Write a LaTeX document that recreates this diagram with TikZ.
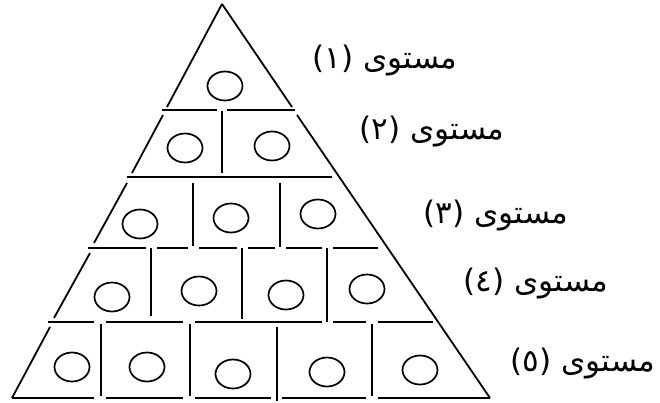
\documentclass[tikz,border=0pt]{standalone}
\usepackage{fontspec}
\usepackage{tikz}
\usetikzlibrary{shapes.geometric,positioning}
\newfontfamily\arabicfont[Script=Arabic]{DejaVu Sans}
\TeXXeTstate=1

\begin{document}
\begin{tikzpicture}[
  x=1pt, y=-1pt,
  edge/.style={line width=1.8pt},
  slot/.style={ellipse, draw, line width=1.7pt, minimum width=35pt,
               minimum height=29pt, inner sep=0pt},
  lvl/.style={font=\arabicfont\fontsize{31}{36}\selectfont, inner sep=0pt},
]
\useasboundingbox (0,0) rectangle (660,403);

% ---- sides -------------------------------------------------------------------
% left side is broken at every level, right side only below level 1
\foreach \xa/\ya/\xb/\yb in {222/4/167/107, 163/115/132/173, 127/183/94/243,
                             90/253/54/318, 50/327/12/398}
  \draw[edge] (\xa,\ya) -- (\xb,\yb);
\draw[edge] (222,4) -- (292,107);
\draw[edge] (297,115) -- (490,398);

% ---- floors ------------------------------------------------------------------
\foreach \y/\a/\b in {110/162/217, 110/227/295,
                      177/127/332,
                      248/88/146, 248/157/188, 248/199/237, 248/248/275,
                      248/286/322, 248/333/378,
                      322/48/94, 322/106/183, 322/195/322, 322/333/366,
                      322/378/433,
                      398/12/94, 398/106/183, 398/195/271, 398/282/366,
                      398/378/490}
  \draw[edge] (\a,\y) -- (\b,\y);

% ---- walls -------------------------------------------------------------------
\foreach \x/\a/\b in {222/111/173,
                      193/183/246, 280/183/247,
                      151/248/316, 242/248/319, 327/248/322,
                      101/324/396, 190/324/396, 277/327/401, 372/324/396}
  \draw[edge] (\x,\a) -- (\x,\b);

% ---- slots -------------------------------------------------------------------
\foreach \n/\x/\y in {11/225/86,
                      21/185/148, 22/272/146,
                      31/140/224, 32/231/218, 33/318/214,
                      41/112/297, 42/199/291, 43/286/295, 44/367/289,
                      51/72/367, 52/147/367, 53/233/374, 54/327/372, 55/420/370}
  \node[slot] (s\n) at (\x,\y) {};

% ---- levels ------------------------------------------------------------------
\foreach \n/\x/\y/\d in {1/385/61/١, 2/432/132/٢, 3/496/216/٣,
                         4/536/284/٤, 5/583/364/٥}
  \node[lvl] (l\n) at (\x,\y) {\beginR مستوى (\d)\endR};
\end{tikzpicture}
\end{document}
